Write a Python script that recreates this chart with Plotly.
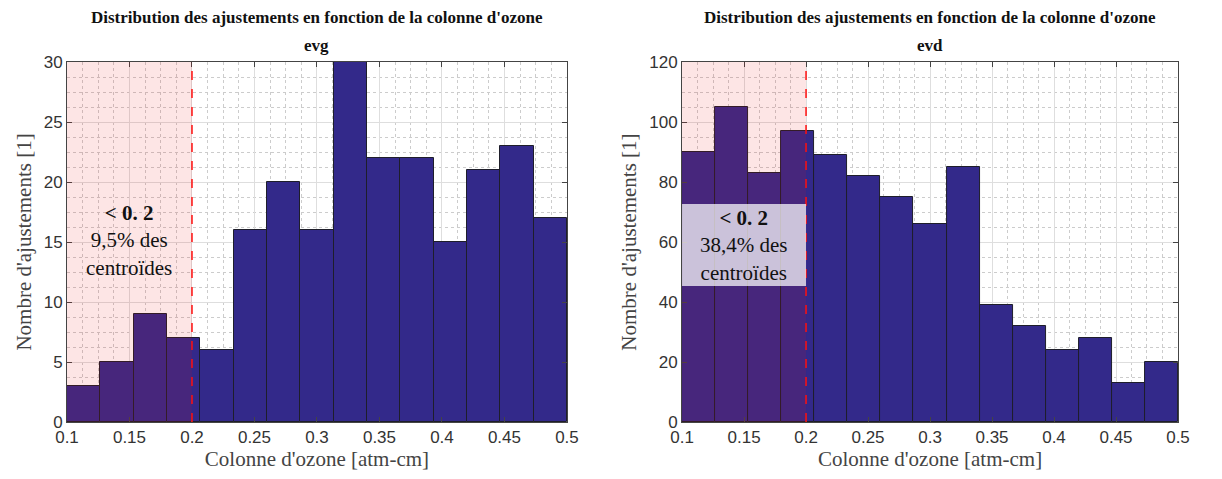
import numpy as np
import plotly.graph_objects as go
from plotly.subplots import make_subplots

# histogram counts, 15 bins between 0.1 and 0.5 atm-cm
counts_evg = [3, 5, 9, 7, 6, 16, 20, 16, 30, 22, 22, 15, 21, 23, 17]
counts_evd = [90, 105, 83, 97, 89, 82, 75, 66, 85, 39, 32, 24, 28, 13, 20]
bin_lo, bin_hi = 0.1, 0.5
seuil = 0.2
pct_labels = ["9,5% des", "38,4% des"]
sous_titres = ["evg", "evd"]
x_ticks = [0.1, 0.15, 0.2, 0.25, 0.3, 0.35, 0.4, 0.45, 0.5]
x_tick_text = ["0.1", "0.15", "0.2", "0.25", "0.3", "0.35", "0.4", "0.45", "0.5"]
y_max = [30, 120]
y_dtick = [5, 20]

edges = np.linspace(bin_lo, bin_hi, len(counts_evg) + 1)
centres = (edges[:-1] + edges[1:]) / 2
largeur = edges[1] - edges[0]

fig = make_subplots(rows=1, cols=2, horizontal_spacing=0.1)
domaines = [[0, 0.45], [0.5536, 1.0]]
fig.update_xaxes(domain=domaines[0], row=1, col=1)
fig.update_xaxes(domain=domaines[1], row=1, col=2)

serif = "Liberation Serif"
bar_col = "#33298a"

for i, counts in enumerate([counts_evg, counts_evd]):
    col = i + 1
    fig.add_trace(go.Bar(
        x=centres, y=counts, width=largeur,
        marker=dict(color=bar_col, line=dict(color="#1e1e2a", width=1)),
        showlegend=False, hoverinfo="x+y"
    ), row=1, col=col)

    xref = "x" if i == 0 else "x2"
    yref = "y" if i == 0 else "y2"
    # zone < 0.2
    fig.add_shape(type="rect", xref=xref, yref=yref, x0=bin_lo, x1=seuil,
                  y0=0, y1=y_max[i], fillcolor="rgba(240,20,20,0.11)",
                  line=dict(width=0), layer="above")
    fig.add_shape(type="line", xref=xref, yref=yref, x0=seuil, x1=seuil,
                  y0=0, y1=y_max[i], line=dict(color="#ff1010", width=1.5, dash="dash"),
                  layer="above")

    txt = "<b>&lt; 0. 2</b><br>" + pct_labels[i] + "<br>centroïdes"
    if i == 0:
        fig.add_annotation(x=0.15, y=15.1, xref=xref, yref=yref, text=txt,
                           showarrow=False, align="center", xanchor="center",
                           font=dict(family=serif, size=21, color="#111"))
    else:
        fig.add_shape(type="rect", xref=xref, yref=yref, x0=bin_lo, x1=seuil,
                      y0=45.3, y1=72.7, fillcolor="rgba(255,255,255,0.72)",
                      line=dict(width=0), layer="above")
        fig.add_annotation(x=0.15, y=58.9, xref=xref, yref=yref, text=txt,
                           showarrow=False, align="center", xanchor="center",
                           font=dict(family=serif, size=21, color="#111"))

    fig.update_xaxes(range=[bin_lo, bin_hi], tickvals=x_ticks, ticktext=x_tick_text,
                     ticks="inside", ticklen=5, tickcolor="#444",
                     showline=True, mirror="ticks", linecolor="#444", linewidth=1,
                     showgrid=True, gridcolor="#dedede", gridwidth=1,
                     minor=dict(dtick=0.0125, showgrid=True, gridcolor="#cccccc",
                                griddash="dot", ticks=""),
                     tickfont=dict(family="Liberation Sans", size=17, color="#333"),
                     title=dict(text="Colonne d'ozone [atm-cm]", standoff=4,
                                font=dict(family=serif, size=21, color="#444")),
                     automargin=False, zeroline=False, row=1, col=col)
    fig.update_yaxes(range=[0, y_max[i]], dtick=y_dtick[i],
                     ticks="inside", ticklen=5, tickcolor="#444",
                     showline=True, mirror="ticks", linecolor="#444", linewidth=1,
                     showgrid=True, gridcolor="#dedede", gridwidth=1,
                     minor=dict(dtick=y_dtick[i] / 4, showgrid=True, gridcolor="#cccccc",
                                griddash="dot", ticks=""),
                     tickfont=dict(family="Liberation Sans", size=17, color="#333"),
                     title=dict(text="Nombre d'ajustements [1]", standoff=6,
                                font=dict(family=serif, size=21, color="#444")),
                     automargin=False, zeroline=False, row=1, col=col)

    dom = domaines[i]
    cx = (dom[0] + dom[1]) / 2
    fig.add_annotation(x=cx, y=1.0, xref="paper", yref="paper",
                       xanchor="center", yanchor="middle", yshift=45, showarrow=False,
                       text="<b>Distribution des ajustements en fonction de la colonne d'ozone</b>",
                       font=dict(family=serif, size=17, color="#111"))
    fig.add_annotation(x=cx, y=1.0, xref="paper", yref="paper",
                       xanchor="center", yanchor="middle", yshift=17, showarrow=False,
                       text="<b>" + sous_titres[i] + "</b>",
                       font=dict(family=serif, size=17, color="#111"))

# the page adds an 8px body margin, so margins are reduced by that amount
fig.update_layout(
    width=1222, height=479,
    margin=dict(l=59, r=52, t=54, b=65),
    plot_bgcolor="white", paper_bgcolor="white",
    bargap=0,
)

fig.write_html("out.html")
